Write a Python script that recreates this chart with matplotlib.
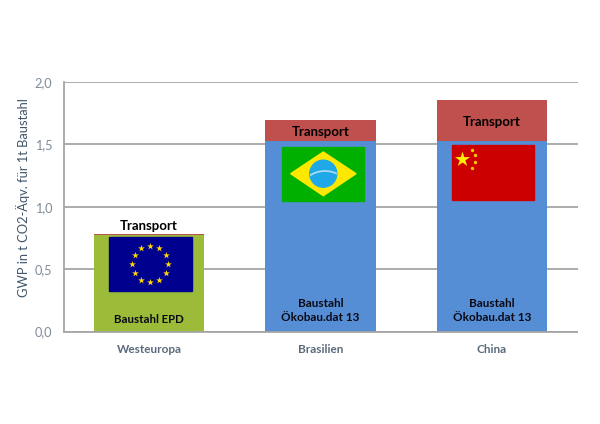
import numpy as np
from matplotlib import pyplot as plt
from matplotlib.patches import Rectangle, Polygon, Circle, Arc

plt.rcParams['font.family'] = ['Lato', 'DejaVu Sans']

regions = ["Westeuropa", "Brasilien", "China"]
base = [0.77, 1.53, 1.53]
transport = [0.015, 0.165, 0.328]
base_colors = ["#9BBB39", "#558ED5", "#558ED5"]
base_labels = ["Baustahl EPD", "Baustahl\nÖkobau.dat 13", "Baustahl\nÖkobau.dat 13"]
transport_label_y = [0.845, 1.603, 1.683]
yticks = [0.0, 0.5, 1.0, 1.5, 2.0]
ytick_labels = ["0,0", "0,5", "1,0", "1,5", "2,0"]

fig = plt.figure(figsize=(6, 4.24), dpi=100)
W, H = 600, 424
ax = fig.add_axes([63.5/W, 1-331.5/H, (577.5-63.5)/W, (331.5-82)/H])

x = np.arange(3)
ax.bar(x, base, width=0.645, color=base_colors, zorder=2)
ax.bar(x, transport, width=0.645, bottom=base, color="#C0504D", zorder=2)

ax.set_xlim(-0.5, 2.5)
ax.set_ylim(0, 2)
ax.set_yticks(yticks)
ax.set_yticklabels(ytick_labels, fontsize=9.2, color="#7F8C99")
ax.set_xticks(x)
ax.set_xticklabels(regions, fontsize=8.5, fontweight="bold", color="#5B6B7B")
ax.tick_params(axis="both", length=0)
ax.tick_params(axis="x", pad=9)
ax.tick_params(axis="y", pad=8)
ax.grid(axis="y", color="#A6A6A6", lw=1.3, zorder=1)
ax.set_axisbelow(True)
for s in ["top", "right"]:
    ax.spines[s].set_visible(False)
for s in ["left", "bottom"]:
    ax.spines[s].set_color("#A6A6A6")
    ax.spines[s].set_linewidth(1.3)

fig.text(23/W, 1-197.5/H, "GWP in t CO2-Äqv. für 1t Baustahl", rotation=90, ha="center", va="center",
         fontsize=9.3, color="#3F566B")

for i in x:
    ax.text(i, transport_label_y[i], "Transport", ha="center", va="center",
            fontsize=9.5, fontweight="bold", color="#000000", zorder=5)

ax.text(0, 0.05, base_labels[0], ha="center", va="bottom",
        fontsize=8.3, fontweight="bold", color="#0A0A14", zorder=5)
for i in [1, 2]:
    ax.text(i, 0.065, base_labels[i], ha="center", va="bottom",
            fontsize=8.5, fontweight="bold", color="#0A0A14", linespacing=1.4, zorder=5)

# flags, drawn in pixel coords on an overlay
ov = fig.add_axes([0, 0, 1, 1], facecolor="none")
ov.set_xlim(0, W)
ov.set_ylim(H, 0)
ov.axis("off")

# EU
ov.add_patch(Rectangle((109.3, 236.7), 82.7, 54.6, color="#00008F"))
ang = np.deg2rad(np.arange(0, 360, 30))
ov.scatter(150.3+18*np.cos(ang), 264+18*np.sin(ang), marker="*", s=26, color="#FFD800", lw=0)

# Brazil
ov.add_patch(Rectangle((282.3, 146.7), 82, 54.3, color="#00B000"))
ov.add_patch(Polygon([(290.7, 173.7), (323.3, 152), (356, 173.7), (323.3, 195.7)], color="#FFE800"))
globe = Circle((323.3, 173.7), 13.5, color="#1FA8E8")
ov.add_patch(globe)
band = Arc((325, 199), 56, 56, theta1=200, theta2=340, color="#A8DCF0", lw=1.3)
ov.add_patch(band)
band.set_clip_path(globe)

# China
ov.add_patch(Rectangle((451.7, 145), 82, 55, color="#CC0000"))
ov.scatter([461.7], [159], marker="*", s=130, color="#FFF000", lw=0)
ov.scatter([472, 475, 475, 472], [150, 155.3, 161.7, 167.7], marker="o", s=6, color="#F5C800", lw=0)

fig.savefig("out.png", dpi=100)
